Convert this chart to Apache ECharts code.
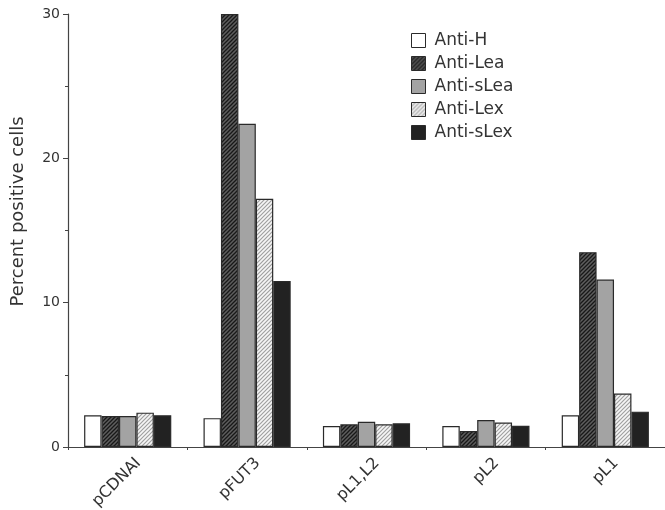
<!DOCTYPE html>
<html>
<head>
<meta charset="utf-8">
<script src="https://cdn.jsdelivr.net/npm/echarts@6/dist/echarts.min.js"></script>
<style>html,body{margin:0;padding:0;background:#fff;}#c{width:665px;height:510px;}</style>
</head>
<body>
<div id="c"></div>
<script>
var categories = ['pCDNAI', 'pFUT3', 'pL1,L2', 'pL2', 'pL1'];
var seriesNames = ['Anti-H', 'Anti-Lea', 'Anti-sLea', 'Anti-Lex', 'Anti-sLex'];
var antiH    = [2.2, 2.0, 1.45, 1.45, 2.2];
var antiLea  = [2.15, 30.0, 1.57, 1.1, 13.5];
var antiSLea = [2.15, 22.4, 1.75, 1.87, 11.6];
var antiLex  = [2.38, 17.2, 1.57, 1.7, 3.7];
var antiSLex = [2.2, 11.5, 1.64, 1.47, 2.45];
var yTicks = [0, 10, 20, 30];

function hatch(bg, fg, size, lw) {
  var c = document.createElement('canvas');
  c.width = size; c.height = size;
  var g = c.getContext('2d');
  g.fillStyle = bg; g.fillRect(0, 0, size, size);
  g.strokeStyle = fg; g.lineWidth = lw;
  g.beginPath();
  g.moveTo(-1, size + 1); g.lineTo(size + 1, -1);
  g.moveTo(-1, 1); g.lineTo(1, -1);
  g.moveTo(size - 1, size + 1); g.lineTo(size + 1, size - 1);
  g.stroke();
  return {image: c, repeat: 'repeat'};
}

var fills = [
  '#ffffff',
  hatch('#5e5e5e', '#181818', 4, 1.3),
  '#a3a3a3',
  hatch('#f6f6f6', '#a0a0a0', 4, 1.2),
  '#222222'
];
var values = [antiH, antiLea, antiSLea, antiLex, antiSLex];

var series = seriesNames.map(function (n, i) {
  return {
    name: n,
    type: 'bar',
    data: values[i],
    barGap: '0%',
    barCategoryGap: '27%',
    itemStyle: {color: fills[i], borderColor: '#2a2a2a', borderWidth: 1.2}
  };
});

var chart = echarts.init(document.getElementById('c'), null, {renderer: 'canvas'});
chart.setOption({
  animation: false,
  backgroundColor: '#ffffff',
  textStyle: {fontFamily: 'DejaVu Sans'},
  grid: {left: 68, right: 0, top: 14, bottom: 63, containLabel: false, outerBoundsMode: 'none'},
  legend: {
    orient: 'vertical',
    left: 411, top: 32,
    padding: 0,
    itemWidth: 14, itemHeight: 14, itemGap: 6,
    icon: 'rect',
    textStyle: {fontFamily: 'DejaVu Sans', fontSize: 17, color: '#333', padding: [0, 0, 0, 4]},
    data: seriesNames,
    itemStyle: {borderColor: '#2a2a2a', borderWidth: 1}
  },
  xAxis: {
    type: 'category',
    data: categories,
    axisLine: {lineStyle: {color: '#444', width: 1.2}},
    axisTick: {show: true, length: 3, lineStyle: {color: '#444'}},
    axisLabel: {rotate: 45, fontSize: 16, lineHeight: 30, color: '#333', margin: 3, verticalAlign: 'top', fontFamily: 'DejaVu Sans'}
  },
  yAxis: {
    type: 'value',
    min: 0, max: 30, interval: 10,
    name: 'Percent positive cells',
    nameLocation: 'middle',
    nameGap: 41,
    nameTextStyle: {fontSize: 18, color: '#333', fontFamily: 'DejaVu Sans', padding: [0, 0, 0, 38]},
    splitLine: {show: false},
    axisLine: {show: true, lineStyle: {color: '#444', width: 1.2}},
    axisTick: {show: true, length: 5, lineStyle: {color: '#444'}},
    minorTick: {show: true, splitNumber: 2, length: 3, lineStyle: {color: '#444'}},
    axisLabel: {fontSize: 14, color: '#333', margin: 8, fontFamily: 'DejaVu Sans',
      formatter: function (v) { return yTicks.indexOf(v) >= 0 ? String(v) : ''; }}
  },
  series: series
});
</script>
</body>
</html>
